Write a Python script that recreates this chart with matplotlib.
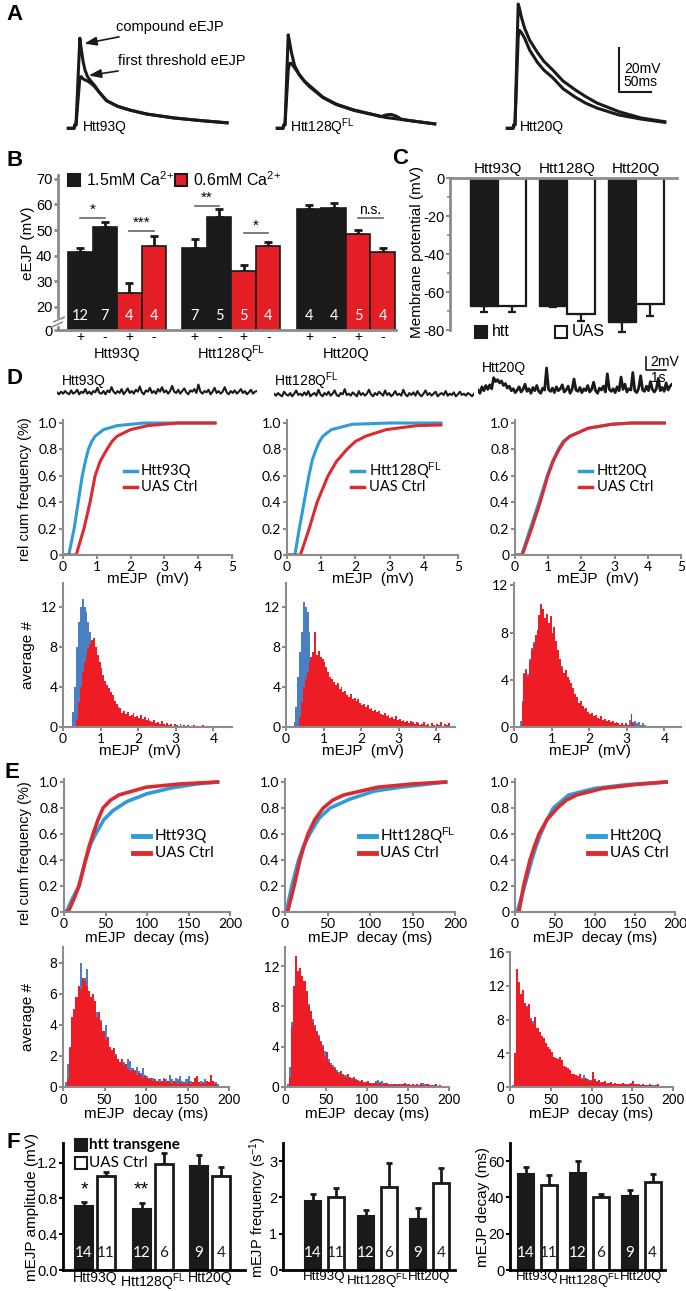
import numpy as np
import matplotlib
matplotlib.use('Agg')
import matplotlib.pyplot as plt
from matplotlib.patches import Rectangle
from matplotlib.lines import Line2D
from matplotlib.transforms import blended_transform_factory as blend

plt.rcParams['font.family'] = ['Liberation Sans', 'DejaVu Sans']
plt.rcParams['mathtext.fontset'] = 'custom'
plt.rcParams['mathtext.rm'] = 'Liberation Sans'
plt.rcParams['mathtext.it'] = 'Liberation Sans:italic'
plt.rcParams['mathtext.bf'] = 'Liberation Sans:bold'
plt.rcParams['font.size'] = 10

# ---------------- data ----------------
# A: evoked EJP traces (ms, mV)
a_t = [[-12, -3, -2, 0, 6, 8, 11, 14, 18, 23, 29, 36, 48, 65, 84, 110, 153, 195, 236],
       [-12, -3, -2, 0, 5, 7, 10, 15, 22, 30, 38, 59, 80, 108, 142, 150, 158, 166, 174, 182, 200, 234],
       [-12, -3, -2, 0, 5, 7, 10, 15, 23, 35, 45, 59, 75, 94, 110, 128, 163, 197, 234]]
a_comp = [[-1.5, -1.5, 0, 0, 39.5, 35, 29, 25, 22, 20, 18, 15, 11, 8.5, 6.8, 5, 3.2, 2, 1],
          [-1.5, -1.5, 0, 0, 41, 38, 33, 27, 23, 20, 18, 12.7, 9.5, 6.8, 4.5, 3.9, 3.4, 3.1, 2.8, 2.5, 1.8, 0.5],
          [-1.5, -1.5, 0, 0, 55, 53, 49, 44, 38.5, 33, 29, 25, 20, 16, 13, 10, 6, 3.2, 1.5]]
a_thr = [[-1.5, -1.5, 0, 0, 21.5, 22, 21, 20.5, 20, 19, 17.5, 15, 11, 8.5, 6.8, 5, 3.2, 2, 1],
         [-1.5, -1.5, 0, 0, 25, 28, 28, 26, 23, 20, 17.5, 12.5, 9.3, 6.6, 4.4, 3.8, 4.6, 4.8, 4.0, 2.6, 1.8, 0.5],
         [-1.5, -1.5, 0, 0, 40, 43, 42, 39.5, 34, 28.5, 25, 21.5, 16.5, 12.7, 10, 7.7, 4.5, 2.7, 1.2]]
a_labels = ['Htt93Q', r'Htt128Q$^{\mathrm{FL}}$', 'Htt20Q']

# B: eEJP amplitude (mV), bars: htt+ , htt- at 1.5mM ; htt+, htt- at 0.6mM
b_groups = ['Htt93Q', r'Htt128Q$^{\mathrm{FL}}$', 'Htt20Q']
b_vals = [[41.6, 51.3, 25.4, 43.8], [43.2, 55.2, 33.9, 43.8], [58.1, 58.5, 48.5, 41.6]]
b_err = [[1.6, 2.0, 3.9, 4.0], [3.3, 3.2, 2.5, 1.4], [1.7, 1.9, 1.7, 1.6]]
b_n = [[12, 7, 4, 4], [7, 5, 5, 4], [4, 4, 5, 4]]
b_signs = ['+', '-', '+', '-']
b_sig = [(0, 0, 54.7, '*'), (0, 2, 49.8, '***'), (1, 0, 59.5, '**'), (1, 2, 48.7, '*'), (2, 2, 54.8, 'n.s.')]

# C: membrane potential (mV)
c_groups = ['Htt93Q', 'Htt128Q', 'Htt20Q']
c_htt = [-67.2, -67.2, -75.6]
c_htt_err = [3.2, 0.8, 5.3]
c_uas = [-67.2, -71.6, -66.4]
c_uas_err = [3.2, 3.4, 6.1]

# D: spontaneous recordings (mV, 0.1 s samples)
d_trace = [
    [0.1, -0.2, 0.2, -0.1, 0.3, 0, -0.2, 0.4, -0.1, 0.1, 0.5, -0.2, 0.2, 0, 0.6, -0.1, 0.2, -0.2, 0.3, 0.1,
     0.8, 0, -0.1, 0.3, -0.2, 0.4, 0.1, 0.9, 0.2, -0.1, 0.3, 0, 0.6, -0.2, 0.2, 0.7, 0, 0.3, -0.1, 0.5,
     0.2, 1.0, 0.1, -0.2, 0.4, 0.2, 0.8, 0, 0.3, -0.1, 0.6, 0.2, 0.9, 0.1, 0.4, -0.1, 0.3, 1.1, 0.2, 0,
     0.5, -0.1, 0.3, 0.7, 0.1, -0.2, 0.4, 0.2, 0.6, 0, 1.3, 0.2, -0.1, 0.3, 0.1, 0.5, -0.2, 0.2, 0.8, 0,
     0.3, -0.1, 0.2, 0.9, 0.1, -0.2, 0.3, 0, 0.4, -0.1, 0.2, 0.6, 0, 0.3, -0.2, 0.1, 0.5, -0.1, 0.2, 0.3],
    [0.2, -0.1, 0.3, 0, -0.2, 0.5, 0.1, -0.1, 0.3, -0.2, 0.2, 0.7, 0, 0.2, -0.1, 0.4, 0, 0.6, -0.2, 0.1,
     0.3, -0.1, 0.8, 0.1, -0.2, 0.3, 0, 0.5, -0.1, 0.2, 0.7, 0, -0.2, 0.3, 0.1, 0.9, 0, 0.2, -0.1, 0.4,
     0.1, -0.2, 0.6, 0, 0.3, -0.1, 0.2, 0.8, 0.1, -0.2, 0.3, 0, 0.5, 0.2, -0.1, 0.7, 0, 0.3, -0.2, 0.1,
     0.6, 0, 0.2, -0.1, 0.8, 0.1, -0.2, 0.3, 0, 0.4, -0.1, 0.6, 0.1, -0.2, 0.2, 0.7, 0, 0.3, -0.1, 0.2,
     0.5, -0.2, 0.1, 0.3, 0, 0.6, -0.1, 0.2, 0, 0.4, -0.2, 0.1, 0.5, 0, 0.2, -0.1, 0.3, 0.1, -0.2, 0.2],
    [0.3, -0.2, 0.8, 0.2, 1.0, 0.4, 1.1, 0.5, 2.2, 1.6, 1.9, 1.4, 1.7, 1.0, 1.3, 0.6, 0.9, 0.2, 0.5, -0.1,
     0.3, 0.8, 0, 0.4, 1.2, 0.1, 0.5, -0.2, 0.7, 0.2, 1.0, 0.1, -0.2, 0.6, 0.3, 3.7, 0.4, 0.1, 0.6, -0.1,
     0.8, 0.2, 0.5, 1.1, 0, 0.3, 0.9, -0.2, 0.4, 2.0, 0.3, 0.1, 0.7, -0.1, 0.5, 0.2, 1.0, 0, 0.4, 1.5,
     0.2, -0.2, 0.6, 0.3, 0.9, 0, 2.8, 0.4, 0.1, 0.5, -0.1, 0.8, 0.2, 2.3, 0.4, 1.2, 0, 0.5, 0.3, 3.0,
     0.2, -0.1, 0.6, 2.5, 0.3, 0.1, 0.9, 0.2, 1.6, 0.4, 0, 0.5, 2.1, 0.2, 0.7, 0.1, 1.4, 0.3, 0.9, 1.2]]
d_names = ['Htt93Q', r'Htt128Q$^{\mathrm{FL}}$', 'Htt20Q']

# D: cumulative amplitude distributions (mV, fraction)
dc_blue_x = [[0, 0.17, 0.33, 0.45, 0.57, 0.67, 0.75, 0.85, 0.95, 1.2, 1.6, 2.4, 4.5],
             [0, 0.23, 0.36, 0.5, 0.64, 0.74, 0.85, 0.95, 1.05, 1.3, 1.9, 3.0, 4.5],
             [0, 0.2, 0.46, 0.72, 0.97, 1.13, 1.3, 1.45, 1.65, 2.2, 2.9, 3.5, 4.5]]
dc_blue_y = [[0, 0, 0.2, 0.4, 0.6, 0.72, 0.8, 0.86, 0.9, 0.95, 0.98, 1.0, 1.0],
             [0, 0, 0.2, 0.4, 0.6, 0.72, 0.8, 0.86, 0.9, 0.95, 0.99, 1.0, 1.0],
             [0, 0, 0.2, 0.4, 0.6, 0.71, 0.8, 0.86, 0.9, 0.96, 0.99, 1.0, 1.0]]
dc_red_x = [[0, 0.39, 0.62, 0.8, 0.95, 1.1, 1.3, 1.45, 1.6, 2.0, 2.5, 3.4, 4.5],
            [0, 0.39, 0.65, 0.88, 1.2, 1.45, 1.75, 2.0, 2.3, 2.9, 3.8, 4.5],
            [0, 0.22, 0.5, 0.76, 0.99, 1.15, 1.33, 1.48, 1.66, 2.2, 2.9, 3.5, 4.5]]
dc_red_y = [[0, 0, 0.2, 0.4, 0.6, 0.71, 0.8, 0.86, 0.9, 0.95, 0.98, 1.0, 1.0],
            [0, 0, 0.2, 0.4, 0.6, 0.71, 0.8, 0.86, 0.9, 0.95, 0.98, 0.985],
            [0, 0, 0.2, 0.4, 0.6, 0.71, 0.8, 0.86, 0.9, 0.96, 0.99, 1.0, 1.0]]

# D: amplitude histograms (0.05 mV bins)
dh_bin = 0.05
dh_blue_start = [0.25, 0.20, 0.15]
dh_blue = [[1.5, 4.0, 8.0, 10.5, 12.0, 12.8, 12.0, 11.5, 10.5, 9.5, 4.0, 0.5],
           [0.5, 2.0, 5.0, 7.5, 9.5, 12.5, 12.0, 11.5, 9.5, 5.0, 1.0],
           [0.5, 2.2, 4.6, 4.9, 4.5, 5.8, 6.7, 7.2, 7.6, 8.0, 9.0, 9.6, 9.4, 9.0, 9.2, 8.6, 8.8, 7.8, 8.0, 7.0,
            6.2, 5.5, 5.2, 4.4, 4.5, 4.0, 3.8, 3.4, 3.0, 2.6, 2.2, 2.0, 1.9, 1.6, 1.4, 1.4, 1.2, 1.0, 1.1, 0.9,
            0.8, 0.8, 0.7, 0.7, 0.6, 0.6, 0.5, 0.5, 0.4, 0.4, 0.3, 0.3, 0.3, 0.2, 0.3, 0.2, 0.3, 0.2, 0.6, 0.2,
            0.4, 0.5, 0.3, 0.4, 0.2, 0.3, 0.2, 0.1, 0]]
dh_red_start = [0.35, 0.35, 0.20]
dh_red = [[0.8, 2.5, 4.0, 5.5, 6.5, 7.2, 7.8, 8.3, 8.7, 8.9, 8.0, 7.2, 6.5, 5.9, 5.2, 4.6, 4.2, 3.9, 3.5, 3.2,
           2.6, 2.3, 2.0, 1.9, 1.4, 1.6, 1.3, 1.5, 1.1, 1.2, 1.4, 1.0, 1.1, 0.9, 1.2, 0.8, 1.0, 0.7, 0.9, 0.6,
           0.5, 0.7, 0.4, 0.5, 0.3, 0.6, 0.3, 0.2, 0.4, 0.2, 0.3, 0.1, 0.3, 0.2, 0.1, 0.3, 0, 0.2, 0.1, 0.2,
           0, 0.1, 0.2, 0, 0.1, 0, 0.1, 0.2, 0, 0, 0.1, 0, 0.1, 0, 0, 0.1, 0.1],
          [1.0, 2.5, 4.0, 4.8, 5.5, 6.5, 7.0, 7.5, 9.5, 7.2, 7.6, 7.0, 6.8, 6.5, 6.0, 5.5, 5.0, 4.8, 4.5, 4.2,
           4.4, 3.8, 4.0, 3.5, 3.6, 3.2, 3.0, 3.3, 2.8, 2.9, 2.6, 2.8, 2.4, 2.2, 2.3, 2.0, 2.2, 1.8, 1.9, 1.6,
           1.7, 1.5, 1.6, 1.3, 1.2, 1.4, 1.1, 1.2, 0.9, 1.0, 0.8, 1.1, 0.7, 0.8, 0.6, 0.7, 0.5, 0.6, 0.4, 0.6,
           0.5, 0.3, 0.5, 0.4, 0.2, 0.3, 0.5, 0.2, 0.3, 0.1, 0.4, 0.2, 0.1, 0.3, 0.2, 0.5, 0.1, 0.3, 0.2, 0.4, 0.1],
          [2.0, 4.5, 4.8, 4.2, 5.6, 6.5, 7.0, 7.8, 8.2, 9.5, 10.4, 10.0, 9.2, 9.6, 8.8, 9.4, 8.0, 8.5, 7.3, 6.5,
           5.8, 5.0, 4.6, 4.8, 4.2, 4.0, 3.7, 3.3, 2.8, 2.5, 2.0, 2.2, 1.8, 1.5, 1.6, 1.3, 1.1, 1.2, 0.9, 1.0,
           0.8, 0.7, 0.9, 0.6, 0.7, 0.5, 0.6, 0.4, 0.5, 0.3, 0.4, 0.3, 0.2, 0.3, 0.2, 0.3, 0.2, 0.2, 1.1, 0.3,
           0.2, 0.1]]

# E: cumulative decay distributions (ms, fraction)
ec_blue_x = [[0, 2.6, 10, 18, 26, 32, 38, 48, 59, 76, 100, 130, 160, 185],
             [0, 1.5, 8, 16, 22, 29, 40, 53, 77, 105, 136, 189],
             [0, 2.7, 12, 21, 26, 32, 40, 48, 67, 99, 140, 189]]
ec_blue_y = [[0, 0, 0.1, 0.2, 0.4, 0.52, 0.6, 0.71, 0.78, 0.85, 0.91, 0.955, 0.985, 1.0],
             [0, 0, 0.2, 0.4, 0.51, 0.6, 0.72, 0.8, 0.87, 0.93, 0.96, 1.0],
             [0, 0, 0.2, 0.4, 0.5, 0.6, 0.71, 0.8, 0.9, 0.95, 0.98, 1.0]]
ec_red_x = [[0, 5, 12, 18, 26, 30, 35, 41, 47, 56, 66, 99, 140, 185],
            [0, 3, 10.7, 17.6, 22, 27, 35, 45, 56, 69, 109, 150, 189],
            [0, 5, 10.7, 18.7, 24, 30, 40, 53, 64, 77, 109, 150, 189]]
ec_red_y = [[0, 0, 0.1, 0.2, 0.4, 0.5, 0.6, 0.71, 0.8, 0.86, 0.9, 0.96, 0.985, 1.0],
            [0, 0, 0.2, 0.4, 0.5, 0.6, 0.71, 0.8, 0.86, 0.9, 0.96, 0.985, 1.0],
            [0, 0, 0.2, 0.4, 0.5, 0.6, 0.71, 0.8, 0.86, 0.9, 0.95, 0.98, 1.0]]

# E: decay histograms (2.5 ms bins from 0)
eh_bin = 2.5
eh_blue = [[0, 0.3, 1.5, 2.6, 3.5, 4.5, 5.5, 6.0, 8.0, 6.5, 7.0, 7.6, 6.0, 5.5, 5.5, 5.0, 4.8, 4.0, 4.3, 3.5,
            4.0, 2.8, 2.5, 2.2, 2.0, 2.1, 1.8, 1.5, 1.4, 1.6, 1.5, 1.8, 1.7, 1.2, 1.1, 1.3, 1.0, 0.9, 1.2, 0.8,
            0.7, 0.6, 0.5, 0.6, 0.5, 0.4, 0.5, 0.4, 0.6, 0.5, 0.4, 0.8, 0.5, 0.4, 0.6, 0.5, 0.7, 0.4, 0.3, 0.5,
            0.7, 0.4, 0.3, 0.4, 0.5, 0.3, 0.4, 0.3, 0.5, 0.3, 0.2, 0.3, 0.2, 0.3, 0.2],
           [0, 0.3, 2.0, 6.5, 9.5, 12.0, 11.0, 11.0, 10.5, 10.0, 9.0, 8.2, 7.2, 6.8, 6.2, 5.6, 5.2, 4.6, 4.2, 3.6,
            3.4, 2.8, 2.4, 2.2, 2.0, 1.7, 1.5, 1.5, 1.3, 1.2, 1.1, 1.0, 0.9, 0.9, 0.8, 0.7, 0.6, 0.6, 0.5, 0.5,
            0.5, 0.4, 0.4, 0.4, 0.6, 0.7, 0.5, 0.6, 0.4, 0.3, 0.3, 0.3, 0.3, 0.3, 0.3, 0.2, 0.3, 0.3, 0.2, 0.3,
            0.2, 0.2, 0.3, 0.2, 0.2, 0.2, 0.4, 0.4, 0.3, 0.2, 0.2, 0.2, 0.1, 0.2, 0.1],
           [0, 0.2, 3.0, 12.0, 12.0, 11.0, 11.0, 10.0, 9.6, 9.0, 8.2, 7.8, 7.6, 7.0, 6.5, 6.0, 5.6, 5.0, 4.6, 4.2,
            4.0, 3.6, 3.3, 3.1, 3.0, 2.8, 2.4, 2.2, 2.0, 1.8, 1.6, 1.5, 1.4, 1.3, 1.2, 1.1, 1.4, 1.0, 0.9, 0.8,
            1.2, 0.8, 0.7, 0.6, 0.6, 0.5, 0.5, 0.5, 0.4, 0.4, 0.4, 0.3, 0.4, 0.3, 0.3, 0.3, 0.3, 0.3, 0.3, 0.5,
            0.6, 0.3, 0.3, 0.2, 0.2, 0.2, 0.2, 0.2, 0.2, 0.2, 0.2, 0.2, 0.3, 0.1]]
eh_red = [[0, 0, 0.5, 2.5, 4.5, 5.0, 5.8, 6.5, 6.3, 7.0, 6.8, 6.5, 6.2, 5.8, 6.0, 5.5, 4.5, 4.8, 4.2, 3.6,
           3.0, 3.2, 2.6, 2.4, 2.5, 2.0, 1.8, 1.6, 1.8, 1.4, 1.5, 1.2, 1.0, 1.1, 1.0, 0.8, 0.9, 0.8, 0.6, 0.7,
           0.6, 0.5, 0.6, 0.4, 0.5, 0.4, 0.3, 0.4, 0.5, 0.3, 0.4, 0.3, 0.2, 0.4, 0.3, 0.2, 0.3, 0.2, 0.3, 0.2,
           0.3, 0.2, 0.3, 0.6, 0.7, 0.3, 0.2, 0.3, 0.2, 0.4, 0.3, 0.8, 0.4, 0.2],
          [0, 0, 1.0, 6.0, 10.0, 13.0, 11.5, 11.8, 11.0, 10.5, 9.5, 8.0, 7.5, 6.5, 6.0, 5.5, 5.0, 4.5, 4.0, 3.0,
           3.5, 2.5, 2.2, 2.0, 1.8, 1.5, 1.3, 1.6, 1.2, 1.0, 1.3, 0.9, 0.8, 1.0, 0.7, 0.6, 0.5, 0.7, 0.4, 0.5,
           0.6, 0.4, 0.3, 0.4, 0.5, 0.3, 0.4, 0.2, 0.3, 0.4, 0.2, 0.3, 0.2, 0.3, 0.2, 0.3, 0.2, 0.3, 0.4, 0.2,
           0.3, 0.2, 0.3, 0.2, 0.3, 0.2, 0.3, 0.2, 0.1, 0.3, 0.2, 0.1, 0.2, 0.3, 0.1, 0.2, 0.1],
          [0, 0, 4.0, 14.0, 12.5, 11.0, 11.5, 10.0, 9.5, 9.8, 8.0, 7.5, 8.3, 7.0, 6.5, 6.0, 5.8, 5.2, 4.8, 4.5,
           4.2, 3.5, 3.4, 3.3, 3.5, 3.2, 2.5, 2.4, 2.2, 2.0, 1.5, 1.6, 1.4, 1.3, 1.5, 1.0, 0.9, 1.1, 0.8, 0.7,
           1.8, 1.0, 0.6, 0.8, 0.5, 0.6, 0.7, 0.4, 0.5, 0.6, 0.4, 0.5, 0.3, 0.4, 0.3, 0.5, 0.3, 0.2, 0.4, 0.3,
           0.7, 0.3, 0.2, 0.3, 0.2, 0.3, 0.2, 0.1, 0.3, 0.2, 0.1, 0.2, 0.4, 0.1]]

# F: summary bars (htt transgene vs UAS Ctrl)
f_groups = ['Htt93Q', r'Htt128Q$^{\mathrm{FL}}$', 'Htt20Q']
f_amp_htt = [0.72, 0.68, 1.16]
f_amp_htt_err = [0.04, 0.07, 0.13]
f_amp_uas = [1.05, 1.19, 1.05]
f_amp_uas_err = [0.05, 0.12, 0.10]
f_freq_htt = [1.9, 1.5, 1.4]
f_freq_htt_err = [0.2, 0.15, 0.3]
f_freq_uas = [2.0, 2.3, 2.4]
f_freq_uas_err = [0.25, 0.65, 0.4]
f_dec_htt = [53, 53.5, 41]
f_dec_htt_err = [4, 6.5, 3]
f_dec_uas = [47, 40, 48.5]
f_dec_uas_err = [5.5, 2, 4.5]
f_n_htt = [14, 12, 9]
f_n_uas = [11, 6, 4]
f_amp_stars = ['*', '**', '']

# ---------------- style ----------------
RED = '#e31e24'
HRED = '#ee1c25'
HBLUE = '#4b7fc3'
CBLUE = '#2f9bd7'
CRED = '#dc2b30'
BLK = '#1a1a1a'
GRAY = '#8c8c8c'
CAL = ['Lato', 'DejaVu Sans']

W, H = 686, 1291
fig = plt.figure(figsize=(W / 100, H / 100), dpi=100)


def box(x0, y0, x1, y1):
    return fig.add_axes([x0 / W, 1 - y1 / H, (x1 - x0) / W, (y1 - y0) / H])


def ftext(x, y, s, **kw):
    kw.setdefault('ha', 'left')
    kw.setdefault('va', 'center')
    fig.text(x / W, 1 - y / H, s, **kw)


def fline(xs, ys, **kw):
    fig.add_artist(Line2D([x / W for x in xs], [1 - y / H for y in ys], **kw))


def fsquare(x, y, size, fc):
    fig.add_artist(Rectangle((x / W, 1 - (y + size / 2) / H), size / W, size / H,
                             facecolor=fc, edgecolor=BLK, lw=1.5, transform=fig.transFigure))


def gray_axes(ax, lw=1.5, size=9, family=CAL):
    for s in ['top', 'right']:
        ax.spines[s].set_visible(False)
    for s in ['left', 'bottom']:
        ax.spines[s].set_color(GRAY)
        ax.spines[s].set_linewidth(lw)
    ax.tick_params(color=GRAY, width=lw, length=3, labelsize=size, pad=1)
    for lb in ax.get_xticklabels() + ax.get_yticklabels():
        lb.set_family(family)


def plabel(x, y, s):
    ftext(x, y, s, fontsize=16, fontweight='bold')


# ---------------- A ----------------
plabel(6, 15, 'A')
a_origin = [76, 285, 515]
for i in range(3):
    ax = box(a_origin[i] - 20, 0, a_origin[i] + 165, 135)
    ax.set_xlim(-20 / 0.64, 165 / 0.64)
    ax.set_ylim(-10 / 2.2, 125 / 2.2)
    ax.axis('off')
    ax.plot(a_t[i], a_thr[i], color=BLK, lw=2.2, solid_joinstyle='round')
    ax.plot(a_t[i], a_comp[i], color=BLK, lw=2.2, solid_joinstyle='round')
    ax.text(10 if i == 0 else 8, -1, a_labels[i], fontsize=10, va='center', ha='left')
    if i == 0:
        ax.annotate('compound eEJP', xy=(13, 37), xytext=(62, 44.5), fontsize=10.5, va='center',
                    arrowprops=dict(arrowstyle='-|>,head_length=0.7,head_width=0.25',
                                    color=BLK, lw=1.2, shrinkA=0, shrinkB=0))
        ax.annotate('first threshold eEJP', xy=(20, 22.5), xytext=(65, 29), fontsize=10.5, va='center',
                    arrowprops=dict(arrowstyle='-|>,head_length=0.7,head_width=0.25',
                                    color=BLK, lw=1.2, shrinkA=0, shrinkB=0))
    if i == 2:
        ax.plot([163, 163, 213], [35, 15, 15], color=BLK, lw=1.5)
        ax.text(170, 25.5, '20mV', fontsize=10, va='center')
        ax.text(170, 19.5, '50ms', fontsize=10, va='center')

# ---------------- B ----------------
plabel(6, 160, 'B')
axB = box(58, 175, 396, 330)
step = 4.673
for g in range(3):
    xs = g * step + np.arange(4) + 0.5
    cols = [BLK, BLK, RED, RED]
    axB.bar(xs, b_vals[g], width=1, color=cols, edgecolor=BLK, lw=1.2, zorder=2)
    axB.errorbar(xs, b_vals[g], yerr=[[0] * 4, b_err[g]], fmt='none', ecolor=BLK,
                 elinewidth=2, capsize=3, capthick=2, zorder=1)
    for j in range(4):
        axB.text(xs[j], 16.5, str(b_n[g][j]), color='white', ha='center', va='center',
                 fontsize=10.5, family=CAL, zorder=3)
    axB.text(g * step + 2, -0.155, b_groups[g], transform=blend(axB.transData, axB.transAxes),
             ha='center', va='center', fontsize=10.5)
for g, j, lev, s in b_sig:
    x0 = g * step + j + 0.5
    axB.plot([x0, x0 + 1], [lev, lev], color='#666666', lw=1.2)
    axB.text(x0 + 0.5, lev + 0.3, s, ha='center', va='bottom', fontsize=11 if s != 'n.s.' else 10)
xt = [g * step + j + 0.5 for g in range(3) for j in range(4)]
axB.set_xticks(xt)
axB.set_xticklabels(b_signs * 3)
axB.set_xlim(-0.41, 13.39)
axB.set_ylim(11, 71.5)
axB.set_yticks([11, 20, 30, 40, 50, 60, 70])
axB.set_yticklabels(['0', '20', '30', '40', '50', '60', '70'])
gray_axes(axB, lw=2, size=10.5, family=['Liberation Sans'])
axB.tick_params(axis='x', length=0, pad=0, labelsize=10)
tr = blend(axB.transAxes, axB.transData)
axB.add_patch(Rectangle((-0.02, 12.8), 0.04, 2.6, transform=tr, color='white', clip_on=False, zorder=5))
axB.plot([-0.018, 0.012], [12.2, 14.0], transform=tr, color=GRAY, lw=1.2, clip_on=False, zorder=6)
axB.plot([-0.012, 0.018], [14.2, 16.0], transform=tr, color=GRAY, lw=1.2, clip_on=False, zorder=6)
ftext(28, 243, 'eEJP (mV)', rotation=90, ha='center', fontsize=11)
fsquare(68, 180, 12, BLK)
ftext(86, 180, r'1.5mM Ca$^{2{+}}$', fontsize=11.5)
fsquare(175, 180, 12, RED)
ftext(193, 180, r'0.6mM Ca$^{2{+}}$', fontsize=11.5)

# ---------------- C ----------------
plabel(392, 158, 'C')
axC = box(450, 178, 677, 330)
xc = np.arange(3) * 2.46
axC.bar(xc - 0.5, c_htt, width=1, color=BLK, edgecolor=BLK, lw=1, zorder=2)
axC.bar(xc + 0.5, c_uas, width=1, color='white', edgecolor=BLK, lw=1.6, zorder=2)
axC.errorbar(xc - 0.5, c_htt, yerr=[c_htt_err, [0] * 3], fmt='none', ecolor=BLK,
             elinewidth=1.6, capsize=3, capthick=1.6, zorder=1, clip_on=False)
axC.errorbar(xc + 0.5, c_uas, yerr=[c_uas_err, [0] * 3], fmt='none', ecolor=BLK,
             elinewidth=1.6, capsize=3, capthick=1.6, zorder=1, clip_on=False)
for g in range(3):
    axC.text(xc[g], 1.06, c_groups[g], transform=blend(axC.transData, axC.transAxes),
             ha='center', va='center', fontsize=11)
axC.set_xlim(-1.714, 6.39)
axC.set_ylim(-80, 0)
axC.set_yticks([0, -20, -40, -60, -80])
axC.set_yticklabels(['0', '-20', '-40', '-60', '-80'])
axC.set_yticks([-10, -30, -50, -70], minor=True)
axC.set_xticks([])
for s in ['bottom', 'right']:
    axC.spines[s].set_visible(False)
for s in ['top', 'left']:
    axC.spines[s].set_color(GRAY)
    axC.spines[s].set_linewidth(2)
axC.spines['top'].set_zorder(3)
axC.tick_params(axis='y', color=GRAY, width=1.5, length=3, labelsize=10.5, pad=1)
axC.tick_params(axis='y', which='minor', color=GRAY, width=1.2, length=2)
ftext(417, 252, 'Membrane potential (mV)', rotation=90, ha='center', fontsize=11)
fsquare(475, 332, 12, BLK)
ftext(492, 332, 'htt', fontsize=11.5)
fsquare(555, 332, 12, 'white')
ftext(572, 332, 'UAS', fontsize=11.5)

# ---------------- D traces ----------------
plabel(6, 379, 'D')
d_px = [(57, 393, 200), (274, 395, 200), (478, 392, 194)]
d_lw = [1.5, 1.5, 2.0]
for i in range(3):
    x0, base, wpx = d_px[i]
    ax = box(x0, 350, x0 + wpx, 402)
    ax.set_xlim(0, 9.9)
    ax.set_ylim(-(402 - base) / 6.5, (base - 350) / 6.5)
    ax.axis('off')
    ax.plot(np.arange(len(d_trace[i])) * 0.1, d_trace[i], color=BLK, lw=d_lw[i])
ftext(62, 381, d_names[0], fontsize=10)
ftext(274, 381, d_names[1], fontsize=10)
ftext(482, 368, d_names[2], fontsize=10)
fline([646, 646, 666], [357, 370, 370], color=BLK, lw=1.2)
ftext(650, 362, '2mV', fontsize=10)
ftext(651, 378, '1s', fontsize=10)

# ---------------- D cumulative ----------------
dc_px = [(63, 232), (287, 458), (515, 681)]
dc_leg = [(124, 141), (351, 369), (579, 597)]
for i in range(3):
    x0, x1 = dc_px[i]
    ax = box(x0, 420, x1, 555)
    ax.plot(dc_blue_x[i], dc_blue_y[i], color=CBLUE, lw=2.2)
    ax.plot(dc_red_x[i], dc_red_y[i], color=CRED, lw=2.2)
    ax.set_xlim(0, 5)
    ax.set_ylim(0, 1.0 * 135 / 132)
    ax.set_xticks(range(6))
    ax.set_yticks([0, 0.2, 0.4, 0.6, 0.8, 1.0])
    ax.set_yticklabels(['0', '0.2', '0.4', '0.6', '0.8', '1.0'])
    gray_axes(ax, size=10)
    ftext((x0 + x1) / 2, 579, 'mEJP  (mV)', ha='center', fontsize=11)
    lx, tx = dc_leg[i]
    fline([lx, lx + 13], [471, 471], color=CBLUE, lw=2.5)
    ftext(tx, 471, d_names[i], fontsize=10.5, family=CAL)
    fline([lx, lx + 13], [487, 487], color=CRED, lw=2.5)
    ftext(tx, 487, 'UAS Ctrl', fontsize=10.5, family=CAL)
ftext(25, 489, 'rel cum frequency (%)', rotation=90, ha='center', fontsize=10.5)

# ---------------- D histograms ----------------
dh_px = [(63, 232), (286, 455), (514, 681)]
dh_ylim = [14.4, 14.4, 12.2]
for i in range(3):
    x0, x1 = dh_px[i]
    ax = box(x0, 583, x1, 727)
    eb = dh_blue_start[i] + dh_bin * np.arange(len(dh_blue[i]) + 1)
    er = dh_red_start[i] + dh_bin * np.arange(len(dh_red[i]) + 1)
    ax.stairs(dh_blue[i], eb, fill=True, color=HBLUE, lw=0)
    ax.stairs(dh_red[i], er, fill=True, color=HRED, lw=0)
    ax.set_xlim(0, (x1 - x0) / 37.6)
    ax.set_ylim(0, dh_ylim[i])
    ax.set_xticks(range(5))
    ax.set_yticks([0, 4, 8, 12])
    gray_axes(ax, size=10)
    ftext((x0 + x1) / 2 - 8, 751, 'mEJP  (mV)', ha='center', fontsize=11)
ftext(28, 655, 'average #', rotation=90, ha='center', fontsize=11)

# ---------------- E cumulative ----------------
plabel(4, 773, 'E')
ec_px = [(64, 230), (285, 455), (515, 675)]
ec_leg = [(133, 155), (359, 380), (588, 610)]
for i in range(3):
    x0, x1 = ec_px[i]
    ax = box(x0, 779, x1, 912)
    ax.plot(ec_blue_x[i], ec_blue_y[i], color=CBLUE, lw=2.6)
    ax.plot(ec_red_x[i], ec_red_y[i], color=CRED, lw=2.6)
    ax.set_xlim(0, 200)
    ax.set_ylim(0, 1.0 * 133 / 130)
    ax.set_xticks([0, 50, 100, 150, 200])
    ax.set_yticks([0, 0.2, 0.4, 0.6, 0.8, 1.0])
    ax.set_yticklabels(['0', '0.2', '0.4', '0.6', '0.8', '1.0'])
    gray_axes(ax, size=10)
    ftext((x0 + x1) / 2, 938, 'mEJP  decay (ms)', ha='center', fontsize=11)
    lx, tx = ec_leg[i]
    fline([lx, lx + 17], [836, 836], color=CBLUE, lw=3.5)
    ftext(tx, 836, d_names[i], fontsize=11, family=CAL)
    fline([lx, lx + 17], [853, 853], color=CRED, lw=3.5)
    ftext(tx, 853, 'UAS Ctrl', fontsize=11, family=CAL)
ftext(25, 853, 'rel cum frequency (%)', rotation=90, ha='center', fontsize=10.5)

# ---------------- E histograms ----------------
eh_px = [(63, 229, 947), (285, 449, 947), (510, 673, 952)]
eh_ylim = [9, 13.9, 16]
eh_ticks = [[0, 2, 4, 6, 8], [0, 4, 8, 12], [0, 4, 8, 12, 16]]
for i in range(3):
    x0, x1, top = eh_px[i]
    ax = box(x0, top, x1, 1087)
    ax.stairs(eh_blue[i], eh_bin * np.arange(len(eh_blue[i]) + 1), fill=True, color=HBLUE, lw=0)
    ax.stairs(eh_red[i], eh_bin * np.arange(len(eh_red[i]) + 1), fill=True, color=HRED, lw=0)
    ax.set_xlim(0, 200)
    ax.set_ylim(0, eh_ylim[i])
    ax.set_xticks([0, 50, 100, 150, 200])
    ax.set_yticks(eh_ticks[i])
    gray_axes(ax, size=10, family=['Liberation Sans'])
    ftext((x0 + x1) / 2, 1114, 'mEJP  decay (ms)', ha='center', fontsize=11)
ftext(28, 1017, 'average #', rotation=90, ha='center', fontsize=11)

# ---------------- F ----------------
plabel(6, 1143, 'F')
f_specs = [
    ((63, 245), 57.5, 95, 18, 11, f_amp_htt, f_amp_htt_err, f_amp_uas, f_amp_uas_err, 1.42,
     [0, 0.4, 0.8, 1.2], ['0.0', '0.4', '0.8', '1.2'], 0.19, 10.2),
    ((283, 455), 52.5, 324.5, 16, 11.5, f_freq_htt, f_freq_htt_err, f_freq_uas, f_freq_uas_err, 3.5,
     [0, 1, 2, 3], ['0', '1', '2', '3'], 0.47, 9.6),
    ((510, 665), 52, 537, 16, 11.5, f_dec_htt, f_dec_htt_err, f_dec_uas, f_dec_uas_err, 70,
     [0, 20, 40, 60], ['0', '20', '40', '60'], 9.4, 9.6),
]
f_axes = []
for k, (xr, gpx, c0, bw, off, hv, he, uv, ue, ytop, yt, ytl, ny, gfs) in enumerate(f_specs):
    x0, x1 = xr
    ax = box(x0, 1143, x1, 1270)
    f_axes.append(ax)
    xg = np.arange(3)
    ax.bar(xg - off / gpx, hv, width=bw / gpx, color=BLK, edgecolor=BLK, lw=1.5, zorder=2)
    ax.bar(xg + off / gpx, uv, width=bw / gpx, color='white', edgecolor=BLK, lw=2, zorder=2)
    ax.errorbar(xg - off / gpx, hv, yerr=[[0] * 3, he], fmt='none', ecolor=BLK, elinewidth=2,
                capsize=2.5, capthick=2, zorder=1)
    ax.errorbar(xg + off / gpx, uv, yerr=[[0] * 3, ue], fmt='none', ecolor=BLK, elinewidth=2,
                capsize=2.5, capthick=2, zorder=1)
    for g in range(3):
        ax.text(g - off / gpx, ny, str(f_n_htt[g]), color='white', ha='center', va='center',
                fontsize=11, family=CAL, zorder=3)
        ax.text(g + off / gpx, ny, str(f_n_uas[g]), color=BLK, ha='center', va='center',
                fontsize=11, family=CAL, zorder=3)
    ax.set_xlim((x0 - c0) / gpx, (x1 - c0) / gpx)
    ax.set_ylim(0, ytop)
    ax.set_yticks(yt)
    ax.set_yticklabels(ytl)
    ax.set_xticks(xg)
    ax.set_xticklabels(f_groups)
    for s in ['top', 'right']:
        ax.spines[s].set_visible(False)
    for s in ['left', 'bottom']:
        ax.spines[s].set_linewidth(2)
    ax.tick_params(axis='x', length=0, pad=1, labelsize=gfs)
    ax.tick_params(axis='y', length=3, width=1.5, labelsize=10.5, pad=1)
for g in range(3):
    if f_amp_stars[g]:
        f_axes[0].text(g - 11 / 57.5, 0.8, f_amp_stars[g], ha='center', va='bottom', fontsize=14)
fsquare(75, 1145, 12, BLK)
ftext(89, 1145, 'htt transgene', fontsize=11, family=CAL, fontweight='bold')
fsquare(75, 1163, 12, 'white')
ftext(89, 1163, 'UAS Ctrl', fontsize=11, family=CAL)
ftext(32, 1207, 'mEJP amplitude (mV)', rotation=90, ha='center', fontsize=11)
ftext(258, 1207, r'mEJP frequency (s$^{-1}$)', rotation=90, ha='center', fontsize=10.5)
ftext(483, 1207, 'mEJP decay (ms)', rotation=90, ha='center', fontsize=11)

fig.savefig('out.png', dpi=100)
